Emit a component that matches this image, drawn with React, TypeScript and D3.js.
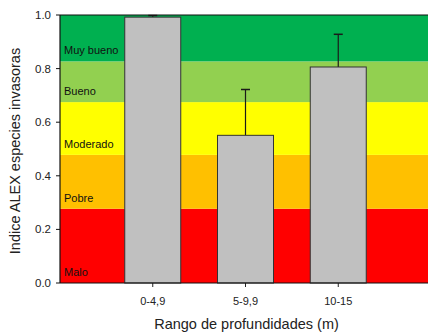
import React from "react";
import * as d3 from "d3";

const categories = ["0-4,9", "5-9,9", "10-15"];
const values = [0.992, 0.551, 0.806];
const errUpper = [0.998, 0.722, 0.928];
const bandNames = ["Malo", "Pobre", "Moderado", "Bueno", "Muy bueno"];
const bandLows = [0, 0.277, 0.478, 0.675, 0.827];
const bandHighs = [0.277, 0.478, 0.675, 0.827, 1.0];
const bandColors = ["#ff0000", "#ffc000", "#ffff00", "#92d050", "#00b050"];
const yTicks = [0, 0.2, 0.4, 0.6, 0.8, 1.0];

const W = 428;
const H = 335;
const left = 60;
const top = 15;
const bottom = 283;
const right = 431;

export default function App() {
  const y = d3.scaleLinear().domain([0, 1]).range([bottom, top]);
  const x = d3.scaleLinear().domain([-1, 3]).range([left, right]);
  const barW = 56;
  const font = "'Liberation Sans', Arial, sans-serif";
  return (
    <svg
      width={W}
      height={H}
      style={{ position: "absolute", left: 0, top: 0 }}
      fontFamily={font}
    >
      {bandNames.map((n, i) => (
        <rect
          key={n}
          x={left}
          y={y(bandHighs[i])}
          width={W - left}
          height={y(bandLows[i]) - y(bandHighs[i])}
          fill={bandColors[i]}
        />
      ))}
      {bandNames.map((n, i) => (
        <text key={"t" + n} x={64} y={y(bandLows[i]) - 7} fontSize={11} fill="#111">
          {n}
        </text>
      ))}
      {categories.map((c, i) => (
        <g key={c}>
          <line
            x1={x(i)}
            x2={x(i)}
            y1={y(values[i])}
            y2={y(errUpper[i])}
            stroke="#1a1a1a"
            strokeWidth={1.2}
          />
          <line
            x1={x(i) - 4.5}
            x2={x(i) + 4.5}
            y1={y(errUpper[i])}
            y2={y(errUpper[i])}
            stroke="#1a1a1a"
            strokeWidth={1.5}
          />
          <rect
            x={x(i) - barW / 2}
            y={y(values[i])}
            width={barW}
            height={y(0) - y(values[i])}
            fill="#c0c0c0"
            stroke="#333"
            strokeWidth={1}
          />
          <line x1={x(i)} x2={x(i)} y1={bottom} y2={bottom + 4} stroke="#222" />
          <text x={x(i)} y={305} fontSize={11} textAnchor="middle" fill="#222">
            {c}
          </text>
        </g>
      ))}
      {/* axes */}
      <line x1={left} x2={W} y1={top} y2={top} stroke="#111" strokeWidth={1.2} />
      <line x1={left} x2={W} y1={bottom} y2={bottom} stroke="#111" strokeWidth={1.2} />
      <line x1={left} x2={left} y1={top} y2={bottom} stroke="#111" strokeWidth={1.2} />
      {yTicks.map((t) => (
        <g key={t}>
          <line x1={left - 4} x2={left} y1={y(t)} y2={y(t)} stroke="#111" />
          <text
            x={51}
            y={y(t) + 4}
            fontSize={11.5}
            textAnchor="end"
            fill="#222"
          >
            {t.toFixed(1)}
          </text>
        </g>
      ))}
      <text
        transform={`translate(20,151) rotate(-90)`}
        fontSize={14.5}
        textAnchor="middle"
        fill="#222"
      >
        Indice ALEX especies invasoras
      </text>
      <text x={246.5} y={329} fontSize={14.5} textAnchor="middle" fill="#222">
        Rango de profundidades (m)
      </text>
    </svg>
  );
}
